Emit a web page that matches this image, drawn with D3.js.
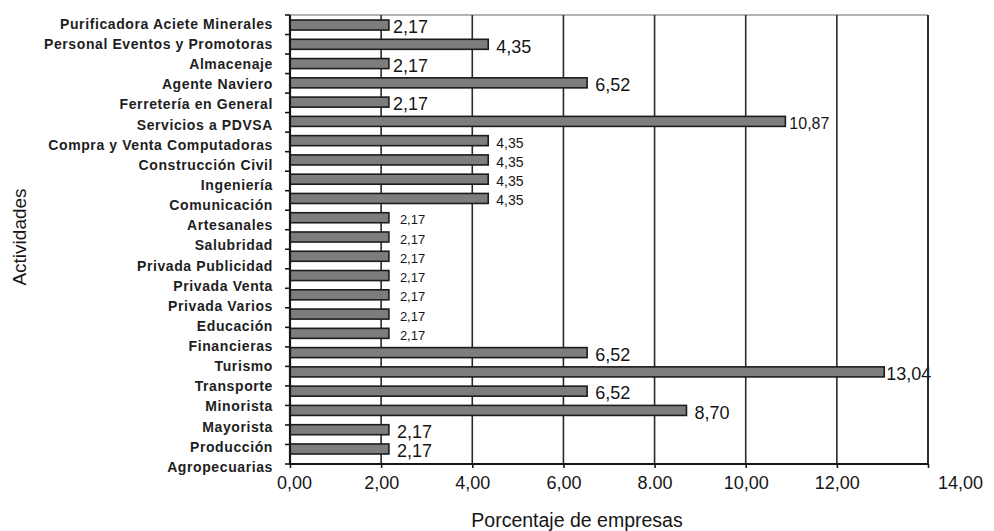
<!DOCTYPE html>
<html>
<head>
<meta charset="utf-8">
<script src="https://cdn.jsdelivr.net/npm/d3@7"></script>
<style>
  html, body { margin: 0; padding: 0; background: #ffffff; }
  svg { display: block; }
</style>
</head>
<body>
<svg id="chart" width="994" height="531"></svg>
<script>
const categories = [
  "Purificadora Aciete Minerales",
  "Personal Eventos y Promotoras",
  "Almacenaje",
  "Agente Naviero",
  "Ferretería en General",
  "Servicios a PDVSA",
  "Compra y Venta Computadoras",
  "Construcción Civil",
  "Ingeniería",
  "Comunicación",
  "Artesanales",
  "Salubridad",
  "Privada Publicidad",
  "Privada Venta",
  "Privada Varios",
  "Educación",
  "Financieras",
  "Turismo",
  "Transporte",
  "Minorista",
  "Mayorista",
  "Producción",
  "Agropecuarias"
];
const values = [
  2.17, 4.35, 2.17, 6.52, 2.17, 10.87, 4.35, 4.35, 4.35, 4.35,
  2.17, 2.17, 2.17, 2.17, 2.17, 2.17, 2.17,
  6.52, 13.04, 6.52, 8.70, 2.17, 2.17
];
const xTickValues = [0, 2, 4, 6, 8, 10, 12, 14];
const xTickLabels = ["0,00", "2,00", "4,00", "6,00", "8.00", "10,00", "12,00", "14,00"];
const xTitle = "Porcentaje de empresas";
const yTitle = "Actividades";

const svg = d3.select("#chart");
const plotLeft = 290, plotRight = 928, plotTop = 15, plotBottom = 464;

const x = d3.scaleLinear().domain([0, 14]).range([plotLeft, plotRight]);
// band layout of the plot area (tick marks)
const yFrame = d3.scaleBand().domain(categories).range([plotTop, plotBottom]);
// bars
const yBar = d3.scaleBand().domain(categories).range([15.4, 458.6]).paddingInner(0.48).paddingOuter(0.24);
// category text positions
const yLab = d3.scalePoint().domain(categories).range([24, 467]);

const ink = "#161616";

// top border (light)
svg.append("line").attr("x1", plotLeft).attr("x2", plotRight).attr("y1", plotTop).attr("y2", plotTop)
  .attr("stroke", "#9a9a9a").attr("stroke-width", 1.5);

// vertical grid lines
svg.append("g").selectAll("line").data(xTickValues.filter(v => v > 0))
  .join("line")
  .attr("x1", d => x(d)).attr("x2", d => x(d))
  .attr("y1", plotTop).attr("y2", plotBottom)
  .attr("stroke", "#2a2a2a").attr("stroke-width", 1.6);

// bars
svg.append("g").selectAll("rect").data(categories)
  .join("rect")
  .attr("x", x(0))
  .attr("y", d => yBar(d))
  .attr("width", (d, i) => x(values[i]) - x(0))
  .attr("height", yBar.bandwidth())
  .attr("fill", "#7d7d7d")
  .attr("stroke", "#1c1c1c")
  .attr("stroke-width", 1.6);

// value labels
function valueLabelSize(i) {
  if (i === 5) return 16;
  if (i >= 6 && i <= 9) return 14;
  if (i >= 10 && i <= 16) return 13;
  return 18;
}
function valueLabelOffset(i) {
  if (i >= 10 && i <= 16) return 11;
  if (i <= 5 && values[i] < 3) return 4;
  if (i === 5) return 4;
  if (i === 18) return 2;
  return 8;
}
const fmt = d3.format(".2f");
svg.append("g").selectAll("text").data(categories)
  .join("text")
  .attr("x", (d, i) => x(values[i]) + valueLabelOffset(i))
  .attr("y", d => yBar(d) + yBar.bandwidth() / 2 + 2)
  .attr("dy", "0.35em")
  .attr("font-family", "Liberation Sans, Arial, sans-serif")
  .attr("font-size", (d, i) => valueLabelSize(i))
  .attr("fill", ink)
  .text((d, i) => fmt(values[i]).replace(".", ","));

// left axis line
svg.append("line").attr("x1", plotLeft).attr("x2", plotLeft).attr("y1", plotTop).attr("y2", plotBottom + 1)
  .attr("stroke", ink).attr("stroke-width", 2.2);
// right border
svg.append("line").attr("x1", plotRight).attr("x2", plotRight).attr("y1", plotTop).attr("y2", plotBottom)
  .attr("stroke", "#2a2a2a").attr("stroke-width", 1.8);
// bottom axis line
svg.append("line").attr("x1", plotLeft - 1).attr("x2", plotRight).attr("y1", plotBottom).attr("y2", plotBottom)
  .attr("stroke", ink).attr("stroke-width", 2.2);

// left tick marks at band boundaries
const bounds = categories.map(c => yFrame(c)).concat([plotBottom]);
svg.append("g").selectAll("line").data(bounds)
  .join("line")
  .attr("x1", plotLeft - 5).attr("x2", plotLeft)
  .attr("y1", d => d).attr("y2", d => d)
  .attr("stroke", ink).attr("stroke-width", 1.6);

// category labels
svg.append("g").selectAll("text").data(categories)
  .join("text")
  .attr("x", 273)
  .attr("y", d => yLab(d))
  .attr("dy", "0.35em")
  .attr("text-anchor", "end")
  .attr("font-family", "Liberation Sans, Arial, sans-serif")
  .attr("font-weight", "bold")
  .attr("font-size", 14)
  .attr("letter-spacing", "0.6px")
  .attr("fill", "#1e1e1e")
  .text(d => d);

// x axis
const xAxis = d3.axisBottom(x)
  .tickValues(xTickValues)
  .tickFormat((d, i) => xTickLabels[i])
  .tickSize(4)
  .tickPadding(8);
const gx = svg.append("g").attr("transform", `translate(0,${plotBottom})`).call(xAxis);
gx.select(".domain").remove();
gx.selectAll(".tick line").attr("stroke", ink).attr("stroke-width", 1.6);
gx.selectAll(".tick text")
  .attr("font-family", "Liberation Sans, Arial, sans-serif")
  .attr("font-size", 18)
  .attr("fill", ink);
// the last label sits further right in the reference
gx.selectAll(".tick").filter(d => d === 14).select("text").attr("dx", 32);
gx.selectAll(".tick").filter(d => d === 0).select("text").attr("dx", 4);

// axis titles
svg.append("text")
  .attr("x", 577).attr("y", 527)
  .attr("text-anchor", "middle")
  .attr("font-family", "Liberation Sans, Arial, sans-serif")
  .attr("font-size", 19.5)
  .attr("fill", ink)
  .text(xTitle);

svg.append("text")
  .attr("transform", "translate(19,237) rotate(-90)")
  .attr("dy", "0.35em")
  .attr("text-anchor", "middle")
  .attr("font-family", "Liberation Sans, Arial, sans-serif")
  .attr("font-size", 19)
  .attr("fill", ink)
  .text(yTitle);
</script>
</body>
</html>
